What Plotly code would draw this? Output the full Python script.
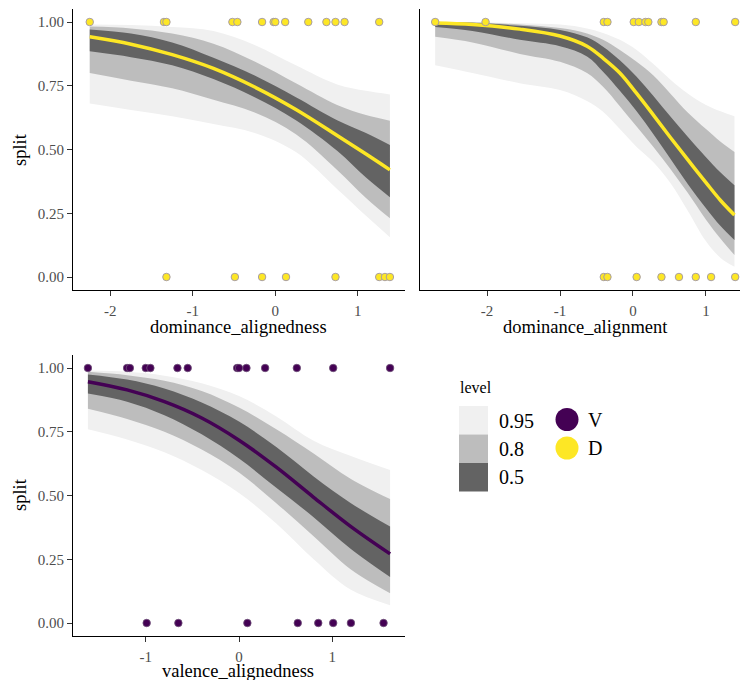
import plotly.graph_objects as go

# ---------------- data ----------------
# Panel 1: dominance_alignedness (group D)
da_x = [-2.25, -1.75, -1.25, -0.75, -0.25, 0.25, 0.75, 1.1, 1.39]
da_fit = [0.942, 0.913, 0.872, 0.818, 0.745, 0.657, 0.555, 0.482, 0.42]
da_lo50 = [0.885, 0.862, 0.830, 0.776, 0.705, 0.615, 0.495, 0.39, 0.313]
da_hi50 = [0.971, 0.955, 0.920, 0.860, 0.790, 0.705, 0.615, 0.565, 0.518]
da_lo80 = [0.80, 0.77, 0.74, 0.695, 0.645, 0.56, 0.42, 0.31, 0.23]
da_hi80 = [0.982, 0.975, 0.955, 0.915, 0.845, 0.76, 0.675, 0.635, 0.613]
da_lo95 = [0.68, 0.655, 0.63, 0.60, 0.565, 0.49, 0.345, 0.24, 0.156]
da_hi95 = [0.99, 0.988, 0.98, 0.965, 0.91, 0.83, 0.755, 0.73, 0.716]
da_pts_one = [-2.25, -1.35, -1.32, -0.52, -0.46, -0.16, -0.02, 0.0, 0.12, 0.40, 0.62, 0.73, 0.84, 1.26]
da_pts_zero = [-1.32, -0.49, -0.16, 0.13, 0.73, 1.26, 1.33, 1.39]

# Panel 2: dominance_alignment (group D)
dm_x = [-2.71, -2.2, -1.55, -1.0, -0.63, -0.41, -0.18, 0.05, 0.28, 0.51, 0.75, 1.0, 1.2, 1.39]
dm_fit = [0.996, 0.99, 0.972, 0.945, 0.905, 0.858, 0.80, 0.72, 0.635, 0.548, 0.46, 0.37, 0.30, 0.243]
dm_lo50 = [0.98, 0.965, 0.93, 0.905, 0.865, 0.805, 0.73, 0.65, 0.56, 0.465, 0.365, 0.27, 0.20, 0.145]
dm_hi50 = [0.999, 0.997, 0.985, 0.969, 0.94, 0.903, 0.85, 0.785, 0.71, 0.63, 0.55, 0.47, 0.41, 0.36]
dm_lo80 = [0.942, 0.92, 0.875, 0.844, 0.80, 0.746, 0.67, 0.59, 0.51, 0.425, 0.33, 0.225, 0.15, 0.086]
dm_hi80 = [1.0, 0.999, 0.99, 0.976, 0.955, 0.93, 0.89, 0.844, 0.79, 0.72, 0.645, 0.58, 0.53, 0.49]
dm_lo95 = [0.83, 0.80, 0.76, 0.733, 0.69, 0.648, 0.58, 0.51, 0.45, 0.37, 0.26, 0.14, 0.075, 0.04]
dm_hi95 = [1.0, 1.0, 0.995, 0.99, 0.975, 0.957, 0.93, 0.89, 0.835, 0.775, 0.72, 0.675, 0.65, 0.63]
dm_pts_one = [-2.71, -2.02, -0.40, -0.35, 0.01, 0.08, 0.17, 0.21, 0.39, 0.42, 0.86, 1.40]
dm_pts_zero = [-0.40, -0.35, 0.05, 0.39, 0.63, 0.86, 1.07, 1.40]

# Panel 3: valence_alignedness (group V)
va_x = [-1.62, -1.2, -0.8, -0.4, 0.0, 0.4, 0.8, 1.2, 1.62]
va_fit = [0.946, 0.914, 0.868, 0.804, 0.717, 0.611, 0.493, 0.378, 0.271]
va_lo50 = [0.90, 0.868, 0.815, 0.74, 0.645, 0.53, 0.415, 0.29, 0.18]
va_hi50 = [0.975, 0.955, 0.92, 0.865, 0.79, 0.69, 0.575, 0.47, 0.378]
va_lo80 = [0.84, 0.80, 0.75, 0.68, 0.59, 0.47, 0.34, 0.21, 0.117]
va_hi80 = [0.985, 0.972, 0.95, 0.91, 0.845, 0.76, 0.665, 0.565, 0.486]
va_lo95 = [0.76, 0.72, 0.67, 0.60, 0.51, 0.39, 0.25, 0.13, 0.07]
va_hi95 = [0.99, 0.985, 0.97, 0.94, 0.89, 0.81, 0.715, 0.655, 0.60]
va_pts_one = [-1.62, -1.20, -1.17, -1.00, -0.95, -0.66, -0.55, -0.02, 0.0, 0.08, 0.28, 0.62, 1.01, 1.62]
va_pts_zero = [-0.99, -0.65, 0.09, 0.63, 0.85, 1.01, 1.20, 1.55]

levels = ["0.95", "0.8", "0.5"]
groups = ["V", "D"]

# ---------------- styling ----------------
FONT = "Liberation Serif"
BAND_COLORS = {"0.95": "#F0F0F0", "0.8": "#BDBDBD", "0.5": "#636363"}
GROUP_COLORS = {"V": "#440154", "D": "#FDE725"}
OUTLINE = {"V": "rgba(110,80,120,0.8)", "D": "rgba(160,150,170,0.9)"}
W, H = 740, 680

fig = go.Figure()


def add_panel(xa, ya, x, fit, bands, pts_one, pts_zero, group):
    color = GROUP_COLORS[group]
    for lvl, (lo, hi) in zip(levels, bands):
        fig.add_trace(go.Scatter(x=x, y=lo, mode="lines", line=dict(width=0, shape="spline"),
                                 hoverinfo="skip", showlegend=False, xaxis=xa, yaxis=ya))
        fig.add_trace(go.Scatter(x=x, y=hi, mode="lines", line=dict(width=0, shape="spline"),
                                 fill="tonexty", fillcolor=BAND_COLORS[lvl],
                                 hoverinfo="skip", showlegend=False, xaxis=xa, yaxis=ya))
    fig.add_trace(go.Scatter(x=x, y=fit, mode="lines",
                             line=dict(color=color, width=3.5, shape="spline"),
                             showlegend=False, xaxis=xa, yaxis=ya))
    fig.add_trace(go.Scatter(x=pts_one + pts_zero,
                             y=[1] * len(pts_one) + [0] * len(pts_zero),
                             mode="markers",
                             marker=dict(color=color, size=7.5,
                                         line=dict(color=OUTLINE[group], width=1)),
                             showlegend=False, xaxis=xa, yaxis=ya, cliponaxis=False))


add_panel("x", "y", da_x, da_fit,
          [(da_lo95, da_hi95), (da_lo80, da_hi80), (da_lo50, da_hi50)],
          da_pts_one, da_pts_zero, "D")
add_panel("x2", "y2", dm_x, dm_fit,
          [(dm_lo95, dm_hi95), (dm_lo80, dm_hi80), (dm_lo50, dm_hi50)],
          dm_pts_one, dm_pts_zero, "D")
add_panel("x3", "y3", va_x, va_fit,
          [(va_lo95, va_hi95), (va_lo80, va_hi80), (va_lo50, va_hi50)],
          va_pts_one, va_pts_zero, "V")


def px(xp):
    return xp / W


def py(yp):
    return 1 - yp / H


axis_common = dict(showline=True, linecolor="black", linewidth=1.1, showgrid=False,
                   zeroline=False, ticks="outside", ticklen=5, tickwidth=1, tickcolor="#333333",
                   tickfont=dict(family=FONT, size=15, color="#4D4D4D"), automargin=False)
xaxis_extra = dict(ticklabelstandoff=2)

top_dom = [py(289.75), py(9.25)]
bot_dom = [py(635.75), py(355.25)]

fig.update_layout(
    width=W, height=H, margin=dict(l=0, r=0, t=0, b=0),
    paper_bgcolor="white", plot_bgcolor="white", showlegend=False,
    font=dict(family=FONT),
    xaxis=dict(axis_common, **xaxis_extra, domain=[px(73), px(405)], range=[-2.453, 1.573],
               tickvals=[-2, -1, 0, 1], ticktext=["-2", "-1", "0", "1"], anchor="y"),
    yaxis=dict(axis_common, domain=top_dom, range=[-0.05, 1.05],
               tickvals=[0, 0.25, 0.5, 0.75, 1], tickformat=".2f", anchor="x"),
    xaxis2=dict(axis_common, **xaxis_extra, domain=[px(420), 1.0], range=[-2.918, 1.466],
                tickvals=[-2, -1, 0, 1], ticktext=["-2", "-1", "0", "1"], anchor="y2"),
    yaxis2=dict(axis_common, domain=top_dom, range=[-0.05, 1.05],
                showticklabels=False, ticks="", anchor="x2"),
    xaxis3=dict(axis_common, **xaxis_extra, domain=[px(73), px(405)], range=[-1.78, 1.78],
                tickvals=[-1, 0, 1], ticktext=["-1", "0", "1"], anchor="y3"),
    yaxis3=dict(axis_common, domain=bot_dom, range=[-0.05, 1.05],
                tickvals=[0, 0.25, 0.5, 0.75, 1], tickformat=".2f", anchor="x3"),
)

annotations = []


def text(s, xp, yp, size, color="black", angle=0, xanchor="center"):
    annotations.append(dict(text=s, x=px(xp), y=py(yp), xref="paper", yref="paper",
                            showarrow=False, xanchor=xanchor, yanchor="middle",
                            textangle=angle, font=dict(family=FONT, size=size, color=color)))


text("dominance_alignedness", 238, 326.5, 18.5)
text("dominance_alignment", 585, 326.5, 18.5)
text("valence_alignedness", 238, 671, 18.5)
text("split", 20, 150, 18.5, angle=-90)
text("split", 20, 495, 18.5, angle=-90)

# legend
text("level", 458, 387, 16, xanchor="left")
shapes = []
key_tops = [406, 434.5, 463]
for lvl, top in zip(levels, key_tops):
    shapes.append(dict(type="rect", xref="paper", yref="paper",
                       x0=px(459), x1=px(488), y0=py(top + 28.5), y1=py(top),
                       fillcolor=BAND_COLORS[lvl], line=dict(width=0)))
    text(lvl, 497, top + 14.5, 20, xanchor="left")
for g, cy in zip(groups, [419.5, 448]):
    shapes.append(dict(type="circle", xref="paper", yref="paper",
                       x0=px(555.5), x1=px(578.5), y0=py(cy + 11.5), y1=py(cy - 11.5),
                       fillcolor=GROUP_COLORS[g], line=dict(width=0)))
    text(g, 586, cy, 20, xanchor="left")

fig.update_layout(annotations=annotations, shapes=shapes)

fig.write_html("out.html", config={"displayModeBar": False},
               post_script="document.body.style.margin='0';")
